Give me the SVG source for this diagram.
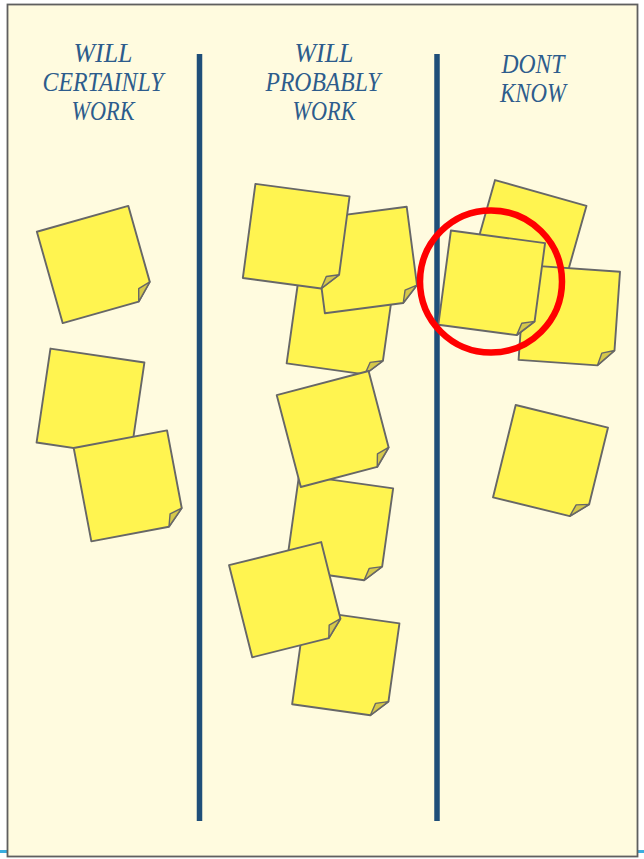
<svg xmlns="http://www.w3.org/2000/svg" xmlns:xlink="http://www.w3.org/1999/xlink" width="644" height="859" viewBox="0 0 644 859">
  <style>
    .board { fill: #fffbdf; stroke: #5f5f5f; stroke-width: 1.8; }
    .divider { stroke: #1f4e79; stroke-width: 5.5; }
    .hdr { font-family: "Liberation Serif", "DejaVu Serif", serif; font-style: italic; font-size: 27px; fill: #2d5c8c; text-anchor: middle; }
    .body { fill: #fff450; stroke: #676767; stroke-width: 1.9; stroke-linejoin: round; }
    .fold { fill: #d5c84a; stroke: #676767; stroke-width: 1.4; stroke-linejoin: round; }
    .ring { fill: none; stroke: #ff0000; stroke-width: 6.5; }
    .edge { fill: #3aaee0; }
  </style>
  <defs>
    <g id="note">
      <path class="body" d="M-47.5,-47.5 H47.5 V31.5 L31.5,47.5 H-47.5 Z"/>
      <path class="fold" d="M47.5,31.5 L35,35 L31.5,47.5 Z"/>
    </g>
  </defs>

  <rect class="edge" x="0" y="850" width="8" height="3"/>
  <rect class="edge" x="637" y="850" width="7" height="3"/>
  <rect class="board" x="7.5" y="4.5" width="630" height="852"/>

  <g id="dividers">
    <line class="divider" x1="199.5" y1="54" x2="199.5" y2="821"/>
    <line class="divider" x1="437" y1="54" x2="437" y2="821"/>
  </g>

  <g id="header-certain">
    <text class="hdr" x="103" y="62" textLength="59" lengthAdjust="spacingAndGlyphs">WILL</text>
    <text class="hdr" x="103" y="91" textLength="121" lengthAdjust="spacingAndGlyphs">CERTAINLY</text>
    <text class="hdr" x="103" y="120" textLength="63" lengthAdjust="spacingAndGlyphs">WORK</text>
  </g>
  <g id="header-probably">
    <text class="hdr" x="324" y="62" textLength="59" lengthAdjust="spacingAndGlyphs">WILL</text>
    <text class="hdr" x="323" y="91" textLength="115" lengthAdjust="spacingAndGlyphs">PROBABLY</text>
    <text class="hdr" x="324" y="120" textLength="63" lengthAdjust="spacingAndGlyphs">WORK</text>
  </g>
  <g id="header-dontknow">
    <text class="hdr" x="533" y="73" textLength="63" lengthAdjust="spacingAndGlyphs">DONT</text>
    <text class="hdr" x="533" y="102" textLength="66" lengthAdjust="spacingAndGlyphs">KNOW</text>
  </g>

  <!-- left column -->
  <g id="note1"><use xlink:href="#note" href="#note" transform="translate(95.5,264.5) rotate(-15.8)"/></g>
  <g id="note2"><use xlink:href="#note" href="#note" transform="translate(90.5,402.5) rotate(8.4)"/></g>
  <g id="note3"><use xlink:href="#note" href="#note" transform="translate(129.2,485.9) rotate(-10.7)"/></g>

  <!-- middle column -->
  <g id="note6"><use xlink:href="#note" href="#note" transform="translate(340.3,322.9) rotate(8)"/></g>
  <g id="note5"><use xlink:href="#note" href="#note" transform="translate(365.8,260) rotate(-7.5)"/></g>
  <g id="note4"><use xlink:href="#note" href="#note" transform="translate(296.2,237.2) rotate(7.6)"/></g>
  <g id="note8"><use xlink:href="#note" href="#note" transform="translate(339.5,528.8) rotate(8)"/></g>
  <g id="note7"><use xlink:href="#note" href="#note" transform="translate(334.7,429) rotate(-14.7)"/></g>
  <g id="note10"><use xlink:href="#note" href="#note" transform="translate(345.8,663.8) rotate(8)"/></g>
  <g id="note9"><use xlink:href="#note" href="#note" transform="translate(286.7,599.7) rotate(-14.1)"/></g>

  <!-- right column -->
  <g id="note11"><use xlink:href="#note" href="#note" transform="translate(527.8,238.7) rotate(15.8)"/></g>
  <g id="note12"><use xlink:href="#note" href="#note" transform="translate(569.3,315.8) rotate(4)"/></g>
  <g id="note13"><use xlink:href="#note" href="#note" transform="translate(491.7,283.9) rotate(7.6)"/></g>
  <g id="note14"><use xlink:href="#note" href="#note" transform="translate(550.5,462.5) rotate(13.8)"/></g>

  <g id="highlight">
    <circle class="ring" cx="491" cy="281.5" r="71"/>
  </g>
</svg>
